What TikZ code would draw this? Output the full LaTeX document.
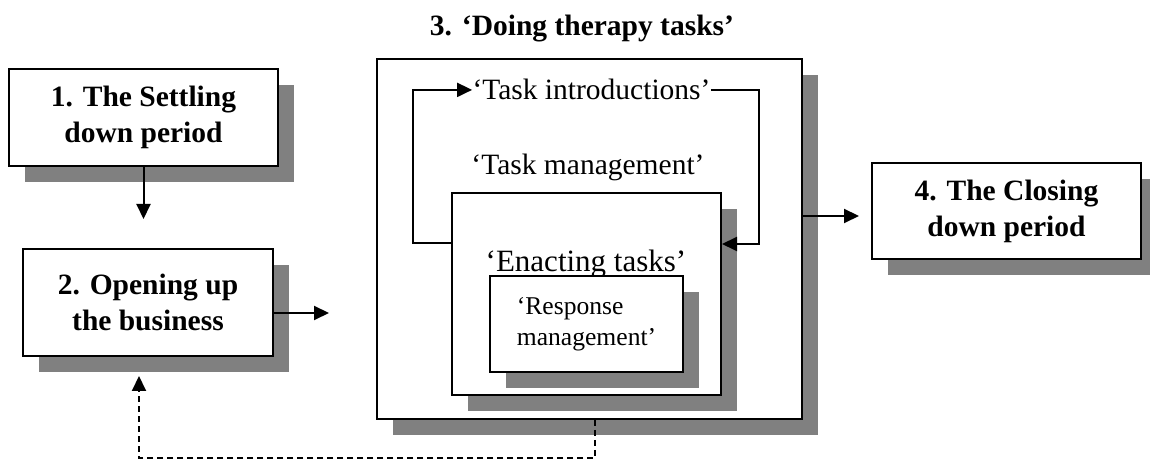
\documentclass[tikz,border=0pt]{standalone}
\usepackage{fontspec}
\setmainfont{Liberation Serif}
\usetikzlibrary{arrows.meta,shadows}

\begin{document}
\begin{tikzpicture}[x=0.5pt,y=-0.5pt,
  box/.style={draw,line width=1pt,fill=white,align=center,inner sep=0pt,
    drop shadow={shadow xshift=8pt,shadow yshift=-8pt,fill=black!50,opacity=1}},
  stage/.style={box,font=\fontsize{14.75}{18}\selectfont\bfseries},
  lbl/.style={inner sep=0pt,font=\fontsize{14.75}{18}\selectfont},
  arr/.style={-{Triangle[length=7.5pt,width=7pt]},line width=1pt}]
\useasboundingbox (0,0) rectangle (1150,469);
% the four stages
\node[stage,minimum width=134.5pt,minimum height=48.5pt] (settle) at (143.5,117.5) {1. The Settling\\down period};
\node[stage,minimum width=125pt,minimum height=53.5pt] (opening) at (148,302.5) {2. Opening up\\the business};
\node[box,minimum width=212.5pt,minimum height=180pt] (therapy) at (589.5,239) {};
\node[stage,minimum width=134.5pt,minimum height=48pt] (closing) at (1006.5,211) {4. The Closing\\down period};
\node[lbl,font=\fontsize{14.75}{18}\selectfont\bfseries,anchor=base] (title) at (582,36) {3. ‘Doing therapy tasks’};
% inside stage 3
\node[lbl,anchor=base] (intro) at (591.5,100) {‘Task introductions’};
\node[lbl,anchor=base] (managelbl) at (588,175) {‘Task management’};
\node[box,minimum width=134.5pt,minimum height=101pt] (manage) at (586.5,294) {};
\node[lbl,font=\fontsize{15.5}{18}\selectfont,anchor=base] (enact) at (586,272) {‘Enacting tasks’};
\node[box,align=left,minimum width=96.5pt,minimum height=48pt,
  font=\fontsize{12.8}{15.5}\selectfont] (response) at (586.5,324) {‘Response\\management’};
% task loop
\coordinate (loopin) at ([yshift=25.5pt]manage.west);
\coordinate (loopback) at ([yshift=25pt]manage.east);
\draw[arr] (loopin) -- ++(-38,0) |- (intro.west);
\draw[arr] (intro.east) -| ([xshift=18.5pt]loopback) -- (loopback);
% flow between stages
\coordinate (openout) at ([yshift=-5.25pt]opening.east);
\coordinate (therout) at ([yshift=11.5pt]therapy.east);
\draw[arr,shorten >=14.5pt] (settle.south) -- (settle.south |- opening.north);
\draw[arr,shorten >=23.5pt] (openout) -- (openout -| therapy.west);
\draw[arr,shorten >=6pt] (therout) -- (therout -| closing.west);
% feedback
\coordinate (fbout) at ([xshift=2.75pt]therapy.south);
\coordinate (fbin) at ([xshift=-4.5pt]opening.south);
\draw[arr,dash pattern=on 3pt off 2pt,shorten >=9.5pt] (fbout) -- ++(0,38) -| (fbin);
\end{tikzpicture}
\end{document}
